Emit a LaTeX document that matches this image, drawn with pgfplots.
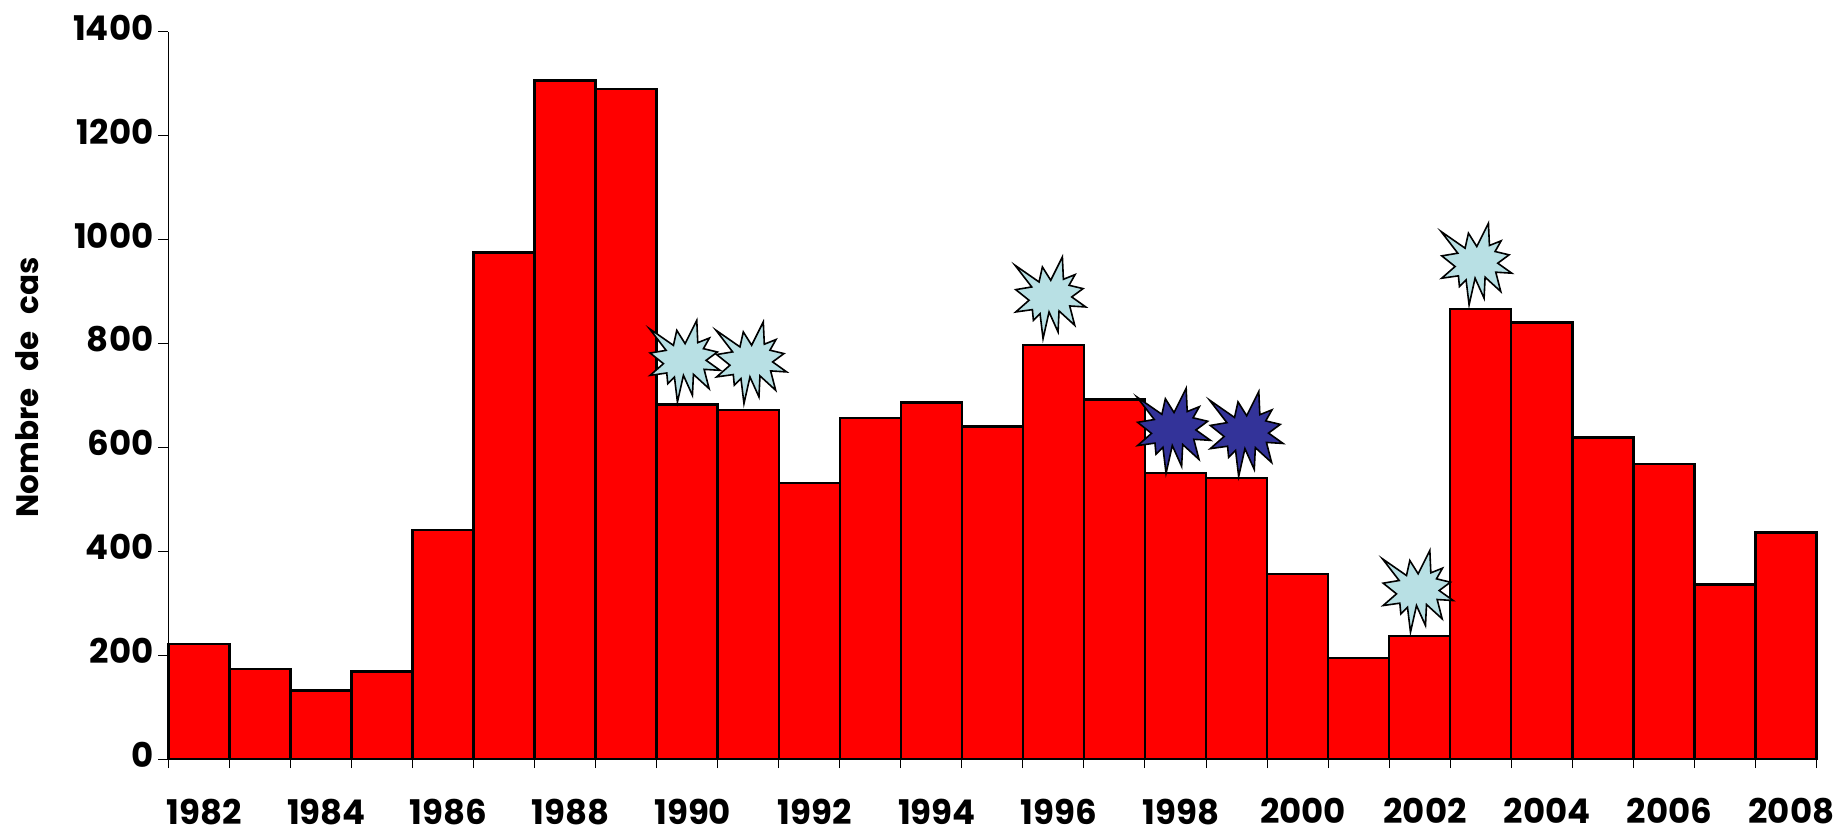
\documentclass[border=0pt]{standalone}
\usepackage{pgfplots}
\usepackage{fontspec}
\setmainfont{Poppins}
\pgfplotsset{compat=1.18}
\definecolor{lightburst}{HTML}{B8E0E4}
\definecolor{darkburst}{HTML}{333399}
\newcommand{\bp}[2]{\pgfpathlineto{\pgfqpoint{#1pt}{#2pt}}}
\pgfdeclareplotmark{burst}{%
  \pgfpathmoveto{\pgfqpoint{-17.33pt}{-7.17pt}}%
  \bp{-9}{-6}\bp{-8.5}{-11.33}\bp{-5.17}{-8}\bp{-3.67}{-20.5}\bp{-0.67}{-7.17}%
  \bp{3.83}{-17.17}\bp{4.33}{-6.67}\bp{12.17}{-13.83}\bp{9.67}{-4.17}\bp{17.67}{-4.67}%
  \bp{10.67}{0.33}\bp{16.33}{4.5}\bp{9.33}{6.17}\bp{12.33}{11.5}\bp{6.5}{9.17}%
  \bp{6}{20.33}\bp{0.17}{8.67}\bp{-4}{15.33}\bp{-5.67}{7.83}\bp{-17.67}{16.17}%
  \bp{-9.33}{5.33}\bp{-17.33}{4}\bp{-10.67}{-1.33}%
  \pgfpathclose
  \pgfusepathqfillstroke
}
\begin{document}
\begin{tikzpicture}
\useasboundingbox (-84.2pt,-36.5pt) rectangle (834.3pt,379.5pt);
\begin{axis}[
  at={(0pt,0pt)}, anchor=origin,
  scale only axis,
  width=824pt, height=363.7pt,
  xmin=1981.5, xmax=2008.5,
  ymin=0, ymax=1400,
  clip=false,
  axis lines=left,
  axis line style={-, line width=0.5pt, black},
  ytick={0,200,...,1400},
  xtick={1982.09,1984.09,1986.09,1988.09,1990.09,1992.09,1994.09,1996.09,1998.09,2000.09,2002.09,2004.09,2006.09,2008.09},
  xticklabels={1982,1984,1986,1988,1990,1992,1994,1996,1998,2000,2002,2004,2006,2008},
  minor xtick={1981.5,1982.5,...,2008.5},
  x tick style={draw=none},
  minor x tick style={draw=black, line width=0.5pt},
  y tick style={draw=black, line width=0.5pt},
  tick align=outside,
  major tick length=5pt,
  minor tick length=4.5pt,
  tick label style={font=\fontsize{17}{20}\selectfont\bfseries},
  xticklabel style={inner ysep=0pt, yshift=-14.6pt},
  yticklabel style={xshift=1pt, yshift=2pt},
  /pgf/number format/assume math mode=true,
  /pgf/number format/1000 sep={},
  ylabel={Nombre\,\, de\,\, cas},
  ylabel style={at={(axis description cs:-0.0854,0.511)}, anchor=center, font=\fontsize{15.5}{18}\selectfont\bfseries},
]
\addplot[ybar, bar width=30.52pt, fill=red, draw=black, line width=1.25pt] coordinates {
(1982,221) (1983,173) (1984,132) (1985,168) (1986,441) (1987,975) (1988,1306) (1989,1290)
(1990,682) (1991,672) (1992,531) (1993,656) (1994,686) (1995,640) (1996,797) (1997,692)
(1998,550) (1999,541) (2000,356) (2001,194) (2002,237) (2003,866) (2004,840) (2005,619)
(2006,568) (2007,336) (2008,436)
};
\addplot[only marks, mark=burst, mark options={fill=lightburst, draw=black, line width=0.8pt}] coordinates {
(1989.96,766) (1991.05,763) (1995.95,888) (2001.97,323) (2002.93,953)
};
\addplot[only marks, mark=burst, mark options={fill=darkburst, draw=black, line width=0.8pt, scale=1.04}] coordinates {
(1997.97,632) (1999.16,626)
};
\end{axis}
\end{tikzpicture}
\end{document}
